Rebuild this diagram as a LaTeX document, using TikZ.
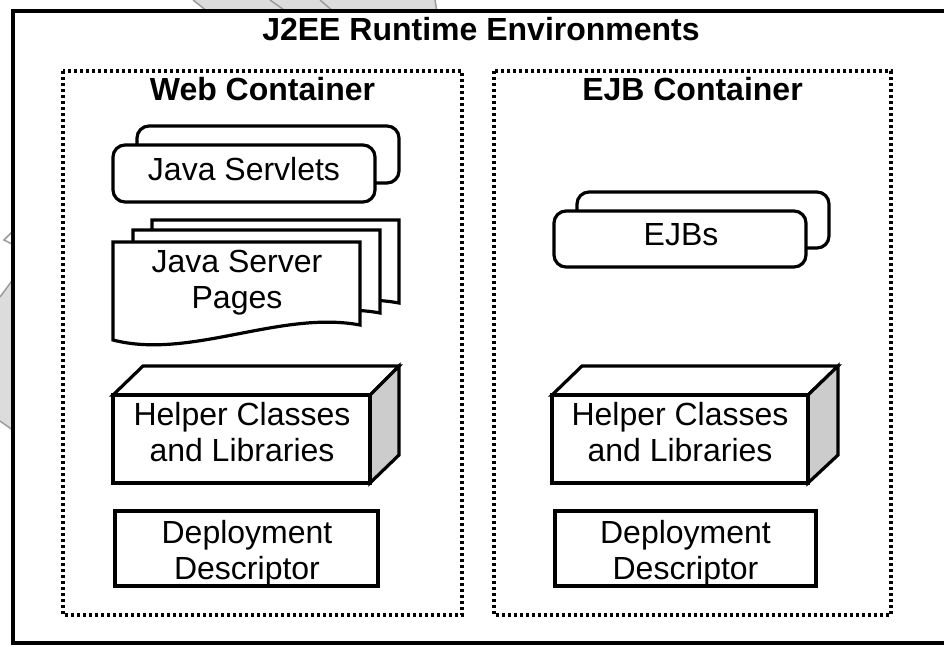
\documentclass[tikz,border=0pt]{standalone}
\usepackage{fontspec}
\setmainfont{Liberation Sans}
\definecolor{wmfill}{HTML}{DCDCDC}
\definecolor{wmline}{HTML}{9A9A9A}
\definecolor{sidegray}{HTML}{CCCCCC}
\begin{document}
\begin{tikzpicture}[x=0.75pt,y=-0.75pt,
  every node/.style={inner sep=0pt, font=\fontsize{24}{27}\selectfont, align=center},
  titletext/.style={font=\fontsize{24}{27}\selectfont\bfseries},
  shp/.style={draw=black, line width=2.4pt, fill=white},
  outerbox/.style={draw=black, line width=3pt, fill=white},
  container/.style={draw=black, line width=2.6pt, dash pattern=on 2.6pt off 1.9pt},
  wmshape/.style={fill=wmfill},
  wmedge/.style={draw=wmline, line width=1.1pt},
  sideface/.style={shp, fill=sidegray}]

\useasboundingbox (0,0) rectangle (944,646);
\clip (0,0) rectangle (944,646);

% faint background shapes
\fill[wmshape] (193,0) -- (208,12) -- (437,12) -- (435,0) -- cycle;
\draw[wmedge] (193,0) -- (208,12);
\draw[wmedge] (270,0) -- (287,12);
\draw[wmedge] (320,0) -- (334,12);
\draw[wmedge] (435,0) -- (437,12);
\fill[wmshape] (0,297) -- (14,278) -- (14,431) -- (0,421) -- cycle;
\draw[wmedge] (0,297) -- (14,278);
\draw[wmedge] (0,421) -- (14,431);
\draw[wmedge] (14,230) -- (4,240) -- (14,245);

% outer box
\draw[outerbox] (13,11) rectangle (949,643);
\node[titletext] (title) at (481,32.8) {\strut J2EE Runtime Environments};

% containers
\draw[container] (63,71) rectangle (462,615);
\draw[container] (494,71) rectangle (891,615);
\node[titletext] (webt) at (262.5,92.8) {\strut Web Container};
\node[titletext] (ejbt) at (692.5,92.8) {\strut EJB Container};

% Java Servlets
\draw[shp, rounded corners=9pt] (137,126) rectangle (399,183);
\draw[shp, rounded corners=9pt] (113,145) rectangle (375,202);
\node (servlets) at (244,172.8) {\strut Java Servlets};

% Java Server Pages (stacked documents)
\draw[shp] (152,220) -- (399,220) -- (399,303) .. controls (319,288) and (229,338) .. (152,318) -- cycle;
\draw[shp] (133,230) -- (380,230) -- (380,313) .. controls (300,298) and (210,348) .. (133,328) -- cycle;
\draw[shp] (113,242) -- (360,242) -- (360,325) .. controls (280,310) and (190,360) .. (113,340) -- cycle;
\node (jsp) at (237,282.8) {\strut Java Server\\\strut Pages};

% EJBs
\draw[shp, rounded corners=9pt] (577,192) rectangle (829,248);
\draw[shp, rounded corners=9pt] (554,211) rectangle (806,267);
\node (ejbs) at (681,237.8) {\strut EJBs};

% Helper classes (left)
\draw[shp] (113,395) -- (143,366) -- (399,366) -- (370,395) -- cycle;
\draw[sideface] (370,395) -- (399,366) -- (399,455) -- (370,483) -- cycle;
\draw[shp] (113,395) rectangle (370,483);
\node (helpl) at (242,435.8) {\strut Helper Classes\\\strut and Libraries};

% Helper classes (right)
\draw[shp] (552,395) -- (582,366) -- (838,366) -- (808,395) -- cycle;
\draw[sideface] (808,395) -- (838,366) -- (838,455) -- (808,483) -- cycle;
\draw[shp] (552,395) rectangle (808,483);
\node (helpr) at (680,435.8) {\strut Helper Classes\\\strut and Libraries};

% Deployment descriptors
\draw[shp] (115,511) rectangle (378,586);
\node (ddl) at (247,553.8) {\strut Deployment\\\strut Descriptor};
\draw[shp] (555,511) rectangle (816,586);
\node (ddr) at (685.5,553.8) {\strut Deployment\\\strut Descriptor};
\end{tikzpicture}
\end{document}
